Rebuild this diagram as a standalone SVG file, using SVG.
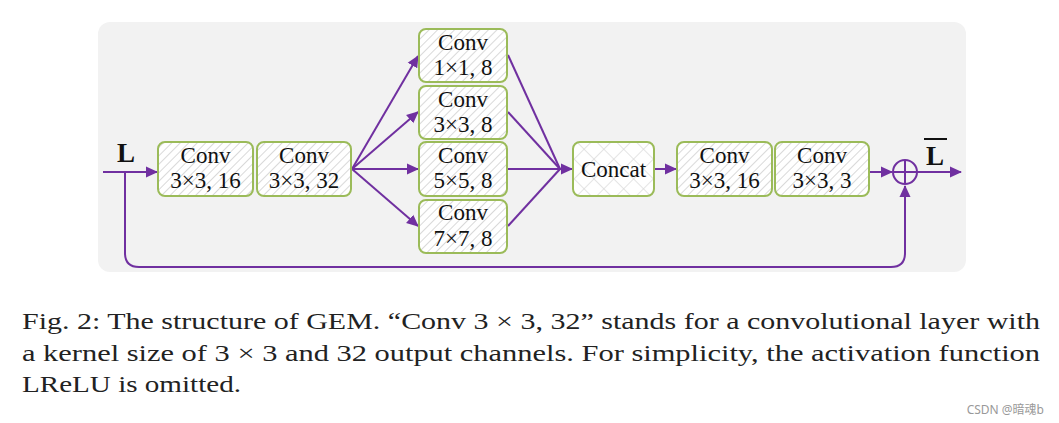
<svg xmlns="http://www.w3.org/2000/svg" width="1059" height="423" viewBox="0 0 1059 423">
<defs>
<pattern id="hatch" patternUnits="userSpaceOnUse" width="6" height="6" patternTransform="rotate(45)">
<rect width="6" height="6" fill="#ffffff"/>
<line x1="0" y1="0" x2="0" y2="6" stroke="#d0d0d0" stroke-width="1.6"/>
</pattern>
<pattern id="cross" patternUnits="userSpaceOnUse" width="14" height="14" patternTransform="rotate(45)">
<rect width="14" height="14" fill="#ffffff"/>
<line x1="0" y1="0" x2="0" y2="14" stroke="#d6d6d6" stroke-width="1.3"/>
<line x1="0" y1="0" x2="14" y2="0" stroke="#d6d6d6" stroke-width="1.3"/>
</pattern>
<marker id="arr" markerWidth="12" markerHeight="12" refX="11" refY="6" orient="auto" markerUnits="userSpaceOnUse">
<path d="M0,0.5 L12,6 L0,11.5 Z" fill="#7030a0"/>
</marker>
</defs>
<style>
.box{fill:url(#hatch);stroke:#9bbb59;stroke-width:2}
.cbox{fill:url(#cross);stroke:#9bbb59;stroke-width:2}
.t{font-size:23px;fill:#111;text-anchor:middle}
.c{stroke:#7030a0;stroke-width:2;fill:none}
.cap{font-size:23.5px;fill:#222}
.lab{font-size:27px;font-weight:bold;fill:#111;text-anchor:middle}
</style>
<rect x="98" y="22" width="868" height="250" rx="12" fill="#f2f2f2"/>
<g id="connectors">
<line class="c" x1="103" y1="172" x2="157" y2="172" marker-end="url(#arr)"/>
<line class="c" x1="352" y1="169" x2="418" y2="56" marker-end="url(#arr)"/>
<line class="c" x1="352" y1="169" x2="418" y2="112" marker-end="url(#arr)"/>
<line class="c" x1="352" y1="169" x2="418" y2="169" marker-end="url(#arr)"/>
<line class="c" x1="352" y1="169" x2="418" y2="226" marker-end="url(#arr)"/>
<line class="c" x1="508" y1="55" x2="560" y2="169"/>
<line class="c" x1="508" y1="112" x2="560" y2="169"/>
<line class="c" x1="508" y1="169" x2="560" y2="169"/>
<line class="c" x1="508" y1="226" x2="560" y2="169"/>
<line class="c" x1="556" y1="169" x2="572" y2="169" marker-end="url(#arr)"/>
<line class="c" x1="655" y1="169" x2="676" y2="169" marker-end="url(#arr)"/>
<line class="c" x1="870" y1="172" x2="892" y2="172" marker-end="url(#arr)"/>
<line class="c" x1="917" y1="172" x2="961" y2="172" marker-end="url(#arr)"/>
<path class="c" d="M125,172 V253 Q125,267 139,267 H891 Q905,267 905,253 V186" marker-end="url(#arr)"/>
</g>
<g id="plus">
<circle cx="905" cy="172" r="12" fill="none" stroke="#7030a0" stroke-width="2"/>
<line class="c" x1="893" y1="172" x2="917" y2="172"/>
<line class="c" x1="905" y1="160" x2="905" y2="184"/>
</g>
<g font-family="Liberation Serif, serif">
<g id="in-label"><text class="lab" x="126" y="162">L</text></g>
<g id="out-label"><text class="lab" x="935" y="165">L</text><line x1="924" y1="139" x2="947" y2="139" stroke="#111" stroke-width="2"/></g>
<g id="conv1"><rect class="box" x="158" y="142" width="95" height="54" rx="7"/><text class="t" x="205.5" y="163">Conv</text><text class="t" x="205.5" y="188">3×3, 16</text></g>
<g id="conv2"><rect class="box" x="257" y="142" width="94" height="54" rx="7"/><text class="t" x="304" y="163">Conv</text><text class="t" x="304" y="188">3×3, 32</text></g>
<g id="conv11"><rect class="box" x="419" y="29" width="88" height="53" rx="7"/><text class="t" x="463" y="50">Conv</text><text class="t" x="463" y="75">1×1, 8</text></g>
<g id="conv33"><rect class="box" x="419" y="86" width="88" height="53" rx="7"/><text class="t" x="463" y="107">Conv</text><text class="t" x="463" y="132">3×3, 8</text></g>
<g id="conv55"><rect class="box" x="419" y="142" width="88" height="54" rx="7"/><text class="t" x="463" y="163">Conv</text><text class="t" x="463" y="188">5×5, 8</text></g>
<g id="conv77"><rect class="box" x="419" y="200" width="88" height="53" rx="7"/><text class="t" x="463" y="220">Conv</text><text class="t" x="463" y="246">7×7, 8</text></g>
<g id="concat"><rect class="cbox" x="573" y="142" width="81" height="54" rx="7"/><text class="t" x="613.5" y="177">Concat</text></g>
<g id="conv3"><rect class="box" x="677" y="142" width="95" height="54" rx="7"/><text class="t" x="724.5" y="163">Conv</text><text class="t" x="724.5" y="188">3×3, 16</text></g>
<g id="conv4"><rect class="box" x="775" y="142" width="94" height="54" rx="7"/><text class="t" x="822" y="163">Conv</text><text class="t" x="822" y="188">3×3, 3</text></g>
<g id="caption">
<text class="cap" x="22" y="329" textLength="1018" lengthAdjust="spacingAndGlyphs">Fig. 2: The structure of GEM. “Conv 3 × 3, 32” stands for a convolutional layer with</text>
<text class="cap" x="22" y="361" textLength="1018" lengthAdjust="spacingAndGlyphs">a kernel size of 3 × 3 and 32 output channels. For simplicity, the activation function</text>
<text class="cap" x="22" y="392" textLength="219" lengthAdjust="spacingAndGlyphs">LReLU is omitted.</text>
</g>
</g>
<text x="1044" y="414" text-anchor="end" font-family="Noto Sans, Noto Sans CJK SC, sans-serif" font-size="12" fill="#999">CSDN @暗魂b</text>
</svg>
